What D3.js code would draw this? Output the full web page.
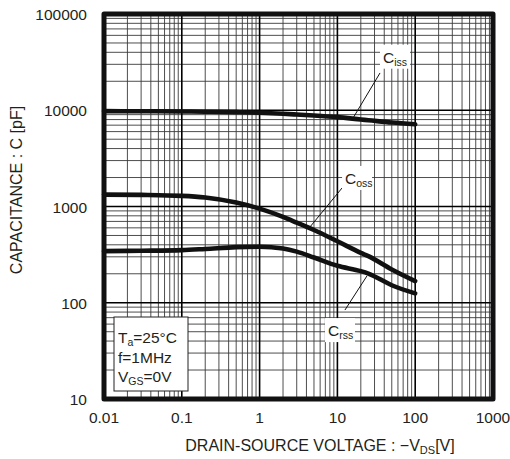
<!DOCTYPE html>
<html><head><meta charset="utf-8">
<script src="https://cdn.jsdelivr.net/npm/d3@7"></script>
<style>
body{margin:0;background:#fff;}
text{font-family:Arial,"Liberation Sans",sans-serif;fill:#231f20;}
</style></head>
<body><svg id="c" width="510" height="459"></svg>
<script>
// ---- data ----
const vds   = [0.01, 0.03, 0.1, 0.2, 0.5, 1, 2, 3, 5, 10, 20, 25, 50, 100];
const ciss  = [9800, 9760, 9720, 9660, 9560, 9420, 9200, 9030, 8820, 8480, 8020, 7880, 7450, 7150];
const coss  = [1330, 1320, 1290, 1240, 1100, 950, 780, 680, 570, 435, 330, 305, 222, 168];
const crss  = [344, 347, 352, 362, 378, 382, 366, 340, 295, 242, 213, 201, 152, 125];
const xTicks = [0.01, 0.1, 1, 10, 100, 1000];
const xTickLabels = ["0.01", "0.1", "1", "10", "100", "1000"];
const yTicks = [10, 100, 1000, 10000, 100000];
const yTickLabels = ["10", "100", "1000", "10000", "100000"];
const seriesNames = ["iss", "oss", "rss"];
// annotation: label position and leader line endpoints (data coords)
const annLabel = [[55, 36000], [17.9, 1980], [10.8, 52]];
const annFrom  = [[15.9, 8300], [4.45, 614], [24, 190]];
const annTo    = [[35.3, 24400], [11.5, 1560], [12.5, 84]];

// ---- layout ----
const L = 104, T = 14, W = 389, H = 385;
const svg = d3.select("#c");
const x = d3.scaleLog().domain([0.01, 1000]).range([L, L + W]);
const y = d3.scaleLog().domain([10, 100000]).range([T + H, T]);

// grid
const g = svg.append("g");
const minorX = [], minorY = [];
for (let d = -2; d < 3; d++) for (let k = 2; k <= 9; k++) minorX.push(k * Math.pow(10, d));
for (let d = 1; d < 5; d++) for (let k = 2; k <= 9; k++) minorY.push(k * Math.pow(10, d));
g.selectAll(".mx").data(minorX).join("line")
  .attr("x1", d => x(d)).attr("x2", d => x(d)).attr("y1", T).attr("y2", T + H)
  .attr("stroke", "#3a3a3a").attr("stroke-width", 0.9);
g.selectAll(".my").data(minorY).join("line")
  .attr("y1", d => y(d)).attr("y2", d => y(d)).attr("x1", L).attr("x2", L + W)
  .attr("stroke", "#3a3a3a").attr("stroke-width", 0.9);
g.selectAll(".Mx").data(xTicks).join("line")
  .attr("x1", d => x(d)).attr("x2", d => x(d)).attr("y1", T).attr("y2", T + H)
  .attr("stroke", "#000").attr("stroke-width", 1.6);
g.selectAll(".My").data(yTicks).join("line")
  .attr("y1", d => y(d)).attr("y2", d => y(d)).attr("x1", L).attr("x2", L + W)
  .attr("stroke", "#000").attr("stroke-width", 1.6);

// curves
const line = d3.line().x(d => x(d[0])).y(d => y(d[1])).curve(d3.curveMonotoneX);
[ciss, coss, crss].forEach(s => {
  svg.append("path").attr("d", line(vds.map((v, i) => [v, s[i]])))
    .attr("fill", "none").attr("stroke", "#111").attr("stroke-width", 4.6)
    .attr("stroke-linecap", "round").attr("stroke-linejoin", "round");
});

// annotations
seriesNames.forEach((nm, i) => {
  svg.append("line")
    .attr("x1", x(annFrom[i][0])).attr("y1", y(annFrom[i][1]))
    .attr("x2", x(annTo[i][0])).attr("y2", y(annTo[i][1]))
    .attr("stroke", "#111").attr("stroke-width", 1);
  const cx = x(annLabel[i][0]), cy = y(annLabel[i][1]);
  svg.append("rect").attr("x", cx - 15).attr("y", cy - 12).attr("width", 30).attr("height", 24)
    .attr("fill", "#fff");
  const t = svg.append("text").attr("x", cx - 12).attr("y", cy + 6).attr("font-size", 15.5);
  t.append("tspan").text("C");
  t.append("tspan").attr("dy", 3).attr("font-size", 10.5).text(nm);
});

// legend box
const lg = svg.append("g");
lg.append("rect").attr("x", L + 10).attr("y", T + H - 82).attr("width", 74).attr("height", 74)
  .attr("fill", "#fff").attr("stroke", "#222").attr("stroke-width", 1);
const lx = L + 14;
const t1 = lg.append("text").attr("x", lx).attr("y", T + H - 56).attr("font-size", 15.5);
t1.append("tspan").text("T");
t1.append("tspan").attr("dy", 3).attr("font-size", 10.5).text("a");
t1.append("tspan").attr("dy", -3).text("=25°C");
lg.append("text").attr("x", lx).attr("y", T + H - 36).attr("font-size", 15.5).text("f=1MHz");
const t3 = lg.append("text").attr("x", lx).attr("y", T + H - 17).attr("font-size", 15.5);
t3.append("tspan").text("V");
t3.append("tspan").attr("dy", 3).attr("font-size", 10.5).text("GS");
t3.append("tspan").attr("dy", -3).text("=0V");

// frame
svg.append("rect").attr("x", L).attr("y", T).attr("width", W).attr("height", H)
  .attr("fill", "none").attr("stroke", "#111").attr("stroke-width", 5)
  .attr("stroke-linejoin", "round");

// tick labels
svg.selectAll(".xl").data(xTicks).join("text")
  .attr("x", d => x(d)).attr("y", T + H + 24).attr("text-anchor", "middle")
  .attr("font-size", 15.5).text((d, i) => xTickLabels[i]);
svg.selectAll(".yl").data(yTicks).join("text")
  .attr("x", L - 17).attr("y", d => y(d) + 6).attr("text-anchor", "end")
  .attr("font-size", 15.5).text((d, i) => yTickLabels[i]);

// axis titles
const xt = svg.append("text").attr("x", 320).attr("y", 451).attr("text-anchor", "middle").attr("font-size", 16);
xt.append("tspan").text("DRAIN-SOURCE VOLTAGE : \u2212V");
xt.append("tspan").attr("dy", 3).attr("font-size", 11).text("DS");
xt.append("tspan").attr("dy", -3).text("[V]");
svg.append("text").attr("transform", "translate(22,190) rotate(-90)").attr("text-anchor", "middle")
  .attr("font-size", 16).text("CAPACITANCE : C [pF]");
</script></body></html>
